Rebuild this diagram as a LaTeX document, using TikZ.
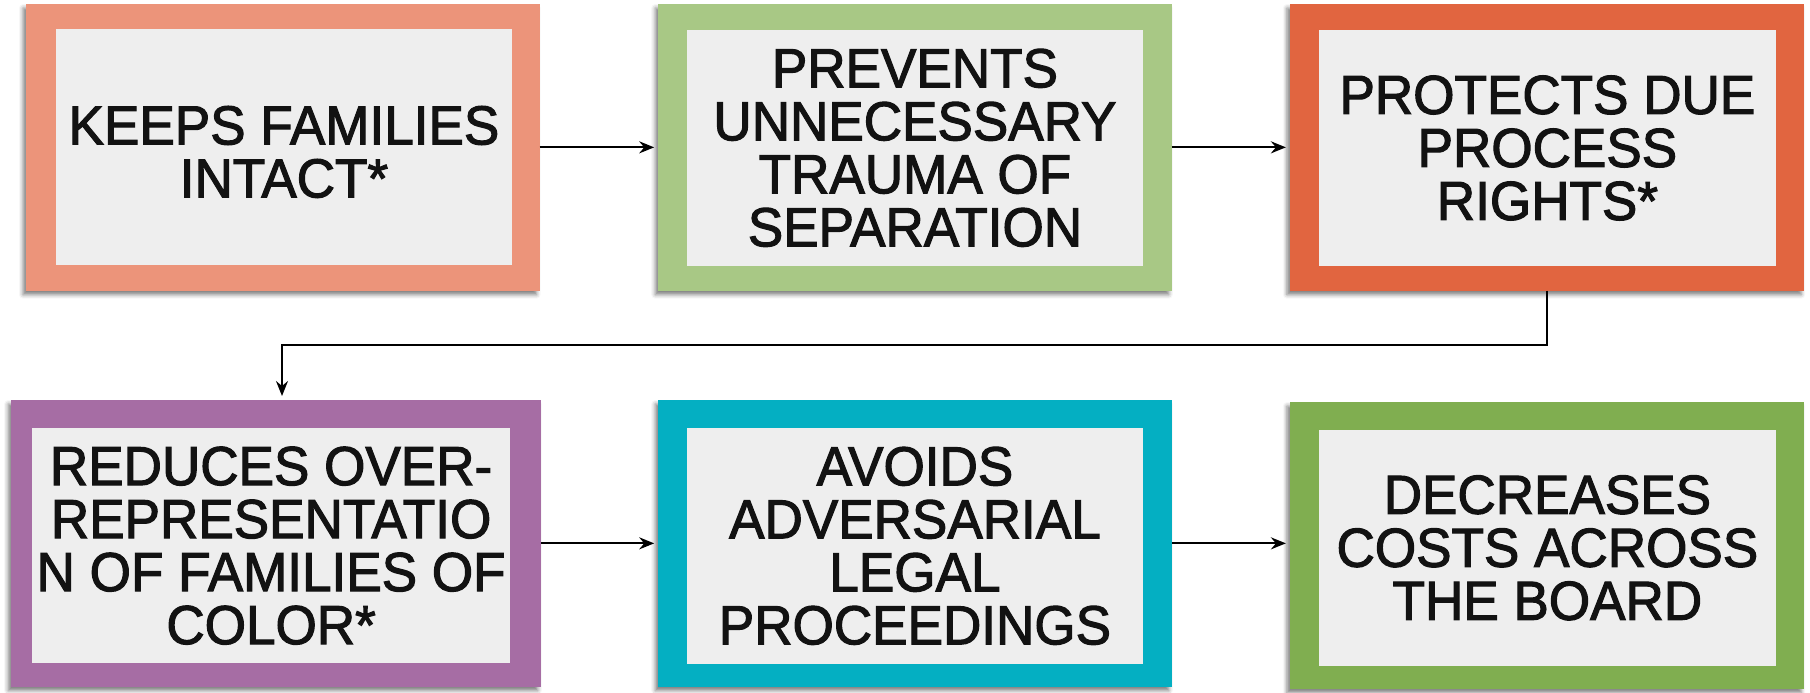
\documentclass[tikz,border=0pt]{standalone}
\usepackage{fontspec}
\setmainfont{Liberation Sans}[FakeStretch=0.965,FakeBold=2]
\usetikzlibrary{arrows.meta,shadows.blur}
\definecolor{cA}{HTML}{EC947A}
\definecolor{cB}{HTML}{A8C885}
\definecolor{cC}{HTML}{E16540}
\definecolor{cD}{HTML}{A66DA4}
\definecolor{cE}{HTML}{04AFC2}
\definecolor{cF}{HTML}{80AE50}
\definecolor{ingray}{HTML}{EEEEEE}
\definecolor{txt}{HTML}{121212}
\tikzset{
  outerbox/.style={rectangle, inner sep=0pt, outer sep=0pt, draw=none,
    blur shadow={shadow xshift=-3pt, shadow yshift=-4pt, shadow blur radius=4pt, shadow opacity=50}},
  innerbox/.style={rectangle, inner sep=0pt, outer sep=0pt, fill=ingray, draw=none},
  label/.style={inner sep=0pt, text=txt, align=center, font=\fontsize{55}{53}\selectfont},
  arr/.style={draw=black, line width=2pt, -{Stealth[length=15pt,width=12pt,inset=5pt]}, shorten >=4pt}
}
\begin{document}
\begin{tikzpicture}[x=1pt,y=-1pt]
\useasboundingbox (0,0) rectangle (1810,693);
% outer boxes
\node[outerbox, fill=cA, minimum width=513.6pt, minimum height=286.7pt] (b1) at (282.8,147.35) {};
\node[outerbox, fill=cB, minimum width=513.6pt, minimum height=286.7pt] (b2) at (915,147.35) {};
\node[outerbox, fill=cC, minimum width=514.3pt, minimum height=286.7pt] (b3) at (1547.05,147.35) {};
\node[outerbox, fill=cD, minimum width=529.7pt, minimum height=286.7pt] (b4) at (275.95,543.35) {};
\node[outerbox, fill=cE, minimum width=513.6pt, minimum height=286.7pt] (b5) at (915,543.35) {};
\node[outerbox, fill=cF, minimum width=514.3pt, minimum height=286.7pt] (b6) at (1547.05,545.35) {};
% inner panels
\node[innerbox, minimum width=456.1pt, minimum height=236pt] (i1) at (283.95,147) {};
\node[innerbox, minimum width=456.1pt, minimum height=235.7pt] (i2) at (914.95,147.85) {};
\node[innerbox, minimum width=456.8pt, minimum height=236pt] (i3) at (1547.4,148) {};
\node[innerbox, minimum width=478pt, minimum height=235.3pt] (i4) at (271.1,545.65) {};
\node[innerbox, minimum width=456.1pt, minimum height=235.7pt] (i5) at (914.95,545.85) {};
\node[innerbox, minimum width=456.8pt, minimum height=235.7pt] (i6) at (1547.4,547.85) {};
% texts
\node[label] (t1) at ([yshift=-5pt]i1.center) {KEEPS FAMILIES\\INTACT*};
\node[label] (t2) at (i2.center) {PREVENTS\\UNNECESSARY\\TRAUMA OF\\SEPARATION};
\node[label] (t3) at (i3.center) {PROTECTS DUE\\PROCESS\\RIGHTS*};
\node[label] (t4) at (i4.center) {REDUCES OVER-\\REPRESENTATIO\\N OF FAMILIES OF\\COLOR*};
\node[label] (t5) at (i5.center) {AVOIDS\\ADVERSARIAL\\LEGAL\\PROCEEDINGS};
\node[label] (t6) at (i6.center) {DECREASES\\COSTS ACROSS\\THE BOARD};
% connectors
\draw[arr] (b1.east) -- (b2.west);
\draw[arr] (b2.east) -- (b3.west);
\coordinate (turn) at (282,345);
\draw[arr] (b3.south) |- (turn) -- (turn |- b4.north);
\draw[arr] (b4.east) -- (b5.west);
\draw[arr] (b5.east) -- (b5.east -| b6.west);
\end{tikzpicture}
\end{document}
